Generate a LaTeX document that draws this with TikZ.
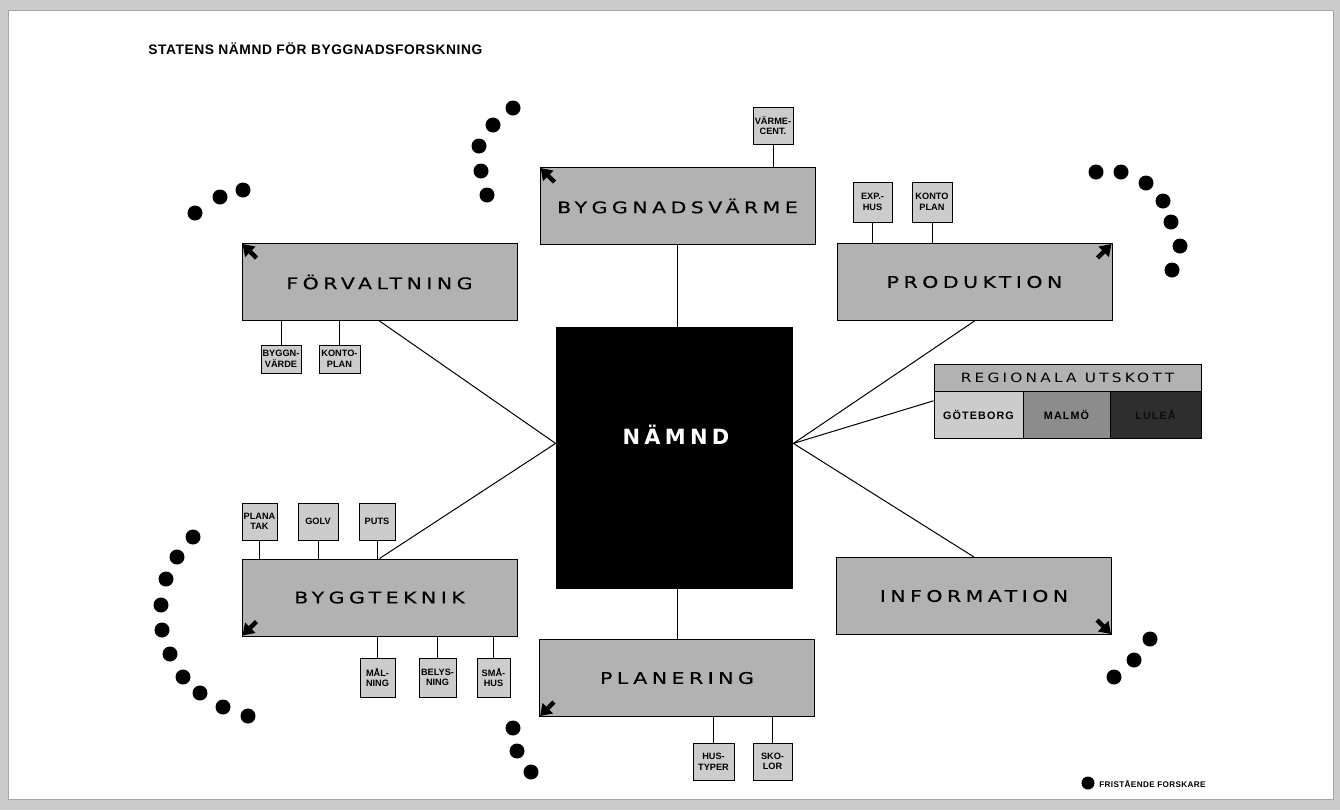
\documentclass[tikz,border=0pt]{standalone}
\usepackage{fontspec}
\setmainfont{DejaVu Sans}
\newfontfamily\boxfont[FakeStretch=1.28,LetterSpace=28,FakeBold=0.4]{DejaVu Sans}
\newfontfamily\namndfont[LetterSpace=20]{DejaVu Sans}
\newfontfamily\titlefont[LetterSpace=4]{Liberation Sans}
\newfontfamily\smallfont{Liberation Sans}
\newfontfamily\regfont[FakeStretch=1.2,LetterSpace=25]{DejaVu Sans}
\newfontfamily\cellfont[LetterSpace=10]{Liberation Sans}
\usetikzlibrary{arrows.meta}
\definecolor{stipple}{gray}{0.70}
\definecolor{smallfill}{gray}{0.80}
\definecolor{frame}{gray}{0.80}
\begin{document}
\begin{tikzpicture}[x=0.5pt,y=-0.5pt,
  bigbox/.style={draw=black, line width=0.5pt, fill=stipple, minimum width=137.5pt, minimum height=38.5pt, inner sep=0pt, font=\boxfont\fontsize{8}{9}\selectfont},
  smallbox/.style={draw=black, line width=0.5pt, fill=smallfill, minimum height=18.5pt, inner sep=0.5pt, align=center, font=\smallfont\bfseries\fontsize{4.6}{5.3}\selectfont},
  link/.style={draw=black, line width=0.5pt},
  cornermark/.style={line width=2.2pt, -{Triangle[length=5.5pt,width=7pt]}},
  dot/.style={fill=black},
  cell/.style={draw=black, line width=0.4pt, minimum height=23.5pt, inner sep=0pt, font=\cellfont\bfseries\fontsize{5.4}{6}\selectfont}
]
\useasboundingbox (0,0) rectangle (1340,810);
% frame
\fill[frame] (0,0) rectangle (1340,810);
\fill[white] (8,10) rectangle (1333,799);
\draw[gray!70, line width=0.4pt] (8,10) rectangle (1333,799);

% title
\node[anchor=west, font=\titlefont\bfseries\fontsize{6.9}{8}\selectfont, inner sep=0pt] (title) at (148,49) {STATENS NÄMND FÖR BYGGNADSFORSKNING};

% central node
\node[fill=black, minimum width=118.5pt, minimum height=131pt, inner sep=0pt] (namnd) at (674.5,458) {};
\node[text=white, font=\namndfont\bfseries\fontsize{10.5}{12}\selectfont, inner sep=0pt] (namndtxt) at (676,435) {NÄMND};

% big boxes
\node[bigbox] (vaerme) at (677.5,206) {BYGGNADSVÄRME};
\node[bigbox] (forv) at (379.5,282) {FÖRVALTNING};
\node[bigbox] (prod) at (974.5,282) {PRODUKTION};
\node[bigbox] (bygg) at (379.5,597.5) {BYGGTEKNIK};
\node[bigbox] (info) at (974,596) {INFORMATION};
\node[bigbox] (plan) at (677,678) {PLANERING};

% corner marks
\draw[cornermark] ([shift={(15,15)}]vaerme.north west) -- ([shift={(1,1)}]vaerme.north west);
\draw[cornermark] ([shift={(15,15)}]forv.north west) -- ([shift={(1,1)}]forv.north west);
\draw[cornermark] ([shift={(-15,15)}]prod.north east) -- ([shift={(-1,1)}]prod.north east);
\draw[cornermark] ([shift={(15,-15)}]bygg.south west) -- ([shift={(1,-1)}]bygg.south west);
\draw[cornermark] ([shift={(-15,-15)}]info.south east) -- ([shift={(-1,-1)}]info.south east);
\draw[cornermark] ([shift={(15,-15)}]plan.south west) -- ([shift={(1,-1)}]plan.south west);

% regional committees
\node[cell, fill=stipple, minimum width=133.5pt, minimum height=13.5pt, font=\regfont\fontsize{6.4}{7}\selectfont] (reg) at (1067.5,377.5) {REGIONALA UTSKOTT};
\node[cell, fill=gray!40, minimum width=44.5pt] (gbg) at (978.5,414.5) {GÖTEBORG};
\node[cell, fill=black!45, minimum width=43.5pt] (malmo) at (1066.5,414.5) {MALMÖ};
\node[cell, fill=black!82, minimum width=45.5pt, text=black!95] (lulea) at (1155.5,414.5) {LULEÅ};

% small boxes
\node[smallbox, minimum width=20pt] (vcent) at (773,125.5) {VÄRME-\\CENT.};
\node[smallbox, minimum width=20pt, minimum height=14pt] (byggnv) at (281,359) {BYGGN-\\VÄRDE};
\node[smallbox, minimum width=20.5pt, minimum height=14pt] (kontol) at (339.5,359) {KONTO-\\PLAN};
\node[smallbox, minimum width=19.5pt, minimum height=20pt] (exphus) at (872.5,202) {EXP.-\\HUS};
\node[smallbox, minimum width=20pt, minimum height=20pt] (kontor) at (932,202) {KONTO\\PLAN};
\node[smallbox, minimum width=17.5pt] (planatak) at (259.5,521.5) {PLANA\\TAK};
\node[smallbox, minimum width=20pt] (golv) at (318,521.5) {GOLV};
\node[smallbox, minimum width=18pt] (puts) at (377,521.5) {PUTS};
\node[smallbox, minimum width=17.5pt, minimum height=19.5pt] (malning) at (377.5,677.5) {MÅL-\\NING};
\node[smallbox, minimum width=18.5pt, minimum height=19.5pt] (belys) at (437.5,677.5) {BELYS-\\NING};
\node[smallbox, minimum width=16.5pt, minimum height=19.5pt] (smahus) at (493.5,677.5) {SMÅ-\\HUS};
\node[smallbox, minimum width=20.5pt] (hustyp) at (713.5,761.5) {HUS-\\TYPER};
\node[smallbox, minimum width=19.5pt] (skolor) at (772.5,761.5) {SKO-\\LOR};

% connectors from NÄMND
\coordinate (nl) at (namnd.173);
\coordinate (nr) at (namnd.7);
\draw[link] (vaerme.south) -- (vaerme.south |- namnd.north);
\draw[link] (plan.north) -- (plan.north |- namnd.south);
\draw[link] (nl) -- (forv.south);
\draw[link] (nl) -- (bygg.north);
\draw[link] (nr) -- (prod.south);
\draw[link] (nr) -- (info.north);
\draw[link] (nr) -- (gbg.163);

% small box connectors
\draw[link] (vcent.south) -- (vcent.south |- vaerme.north);
\draw[link] (byggnv.north) -- (byggnv.north |- forv.south);
\draw[link] (kontol.north) -- (kontol.north |- forv.south);
\draw[link] (exphus.south) -- (exphus.south |- prod.north);
\draw[link] (kontor.south) -- (kontor.south |- prod.north);
\draw[link] (planatak.south) -- (planatak.south |- bygg.north);
\draw[link] (golv.south) -- (golv.south |- bygg.north);
\draw[link] (puts.south) -- (puts.south |- bygg.north);
\draw[link] (malning.north) -- (malning.north |- bygg.south);
\draw[link] (belys.north) -- (belys.north |- bygg.south);
\draw[link] (smahus.north) -- (smahus.north |- bygg.south);
\draw[link] (hustyp.north) -- (hustyp.north |- plan.south);
\draw[link] (skolor.north) -- (skolor.north |- plan.south);

% independent researchers (dots)
\foreach \p in {(195,213),(220,197),(243,190),
                (513,108),(493,125),(479,146),(481,171),(487,195),
                (1096,172),(1121,172),(1146,183),(1163,201),(1171,222),(1180,246),(1172,270),
                (193,537),(177,557),(166,579),(161,605),(162,630),(170,654),(183,677),(200,693),(223,707),(248,716),
                (513,728),(517,751),(531,772),
                (1114,677),(1134,660),(1150,639)}
  \fill[dot] \p circle (7.5);

% legend
\fill[dot] (1088,783) circle (6.5);
\node[anchor=west, font=\titlefont\bfseries\fontsize{4.1}{5}\selectfont, inner sep=0pt] (legend) at (1099,784) {FRISTÅENDE FORSKARE};
\end{tikzpicture}
\end{document}
